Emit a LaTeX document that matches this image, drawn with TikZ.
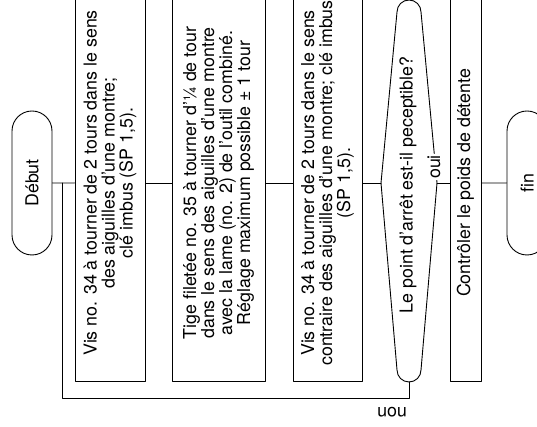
\documentclass[tikz,border=0pt]{standalone}
\usepackage{fontspec}
\setmainfont{TeX Gyre Heros}
\usetikzlibrary{shapes.misc}
\tikzset{
  procbox/.style={draw, rectangle, minimum width=396pt, align=center, inner sep=2pt},
  termbox/.style={draw, rounded rectangle, minimum width=144pt, minimum height=40pt, inner sep=0pt},
  lbl/.style={inner sep=1pt},
  every picture/.style={line cap=round, line join=round}
}
\begin{document}
\begin{tikzpicture}[x=1pt, y=1pt, line width=0.9pt, font=\fontsize{17.8}{18}\selectfont]
  \useasboundingbox (0,0) rectangle (537,427);
  \clip (0,0) rectangle (537,427);
  \begin{scope}[rotate=90, transform shape]
    % start
    \node[termbox] (debut) at (244,-32) {Début};
    \coordinate (join) at (244,-62);

    % steps
    \node[procbox, minimum height=70pt] (vis1) at (244,-110) {Vis no. 34 à tourner de 2 tours dans le sens\\des aiguilles d'une montre;\\clé imbus (SP 1,5).};
    \node[procbox, minimum height=93pt] (tige) at (244,-218.5) {Tige filetée no. 35 à tourner d'¼ de tour\\dans le sens des aiguilles d'une montre\\avec la lame (no. 2) de l'outil combiné.\\Réglage maximum possible ± 1 tour};
    \node[procbox, minimum height=69pt] (vis2) at (244,-327.5) {Vis no. 34 à tourner de 2 tours dans le sens\\contraire des aiguilles d'une montre; clé imbus\\(SP 1,5).};

    % question
    \node[inner sep=0pt] (question) at (242,-408) {Le point d'arrêt est-il peceptible?};
    \coordinate (qtop) at (244,-381);
    \coordinate (qbot) at (244,-437);
    \coordinate (qleft) at (45,-409);
    \draw (qtop) -- (415,-397) arc[start angle=90, end angle=-90, radius=12]
      -- (qbot) -- (57,-421) arc[start angle=270, end angle=90, radius=12] -- cycle;

    % check and end
    \node[procbox, minimum height=31pt] (poids) at (244,-465.5) {Contrôler le poids de détente};
    \node[termbox] (fin) at (244,-527) {fin};

    \draw (debut) -- (vis1);
    \draw (vis1) -- (tige);
    \draw (tige) -- (vis2);
    \draw (vis2) -- (qtop);
    \draw (qbot) -- (poids);
    \draw (poids) -- (fin);

    % loop back
    \coordinate (back) at (29,-62);
    \draw (qleft) -| (back) -- (join);
    \node[lbl, fill=white] (oui) at (260,-434) {oui};
    \node[lbl, rotate=90] (non) at (15,-392) {non};
  \end{scope}
\end{tikzpicture}
\end{document}
